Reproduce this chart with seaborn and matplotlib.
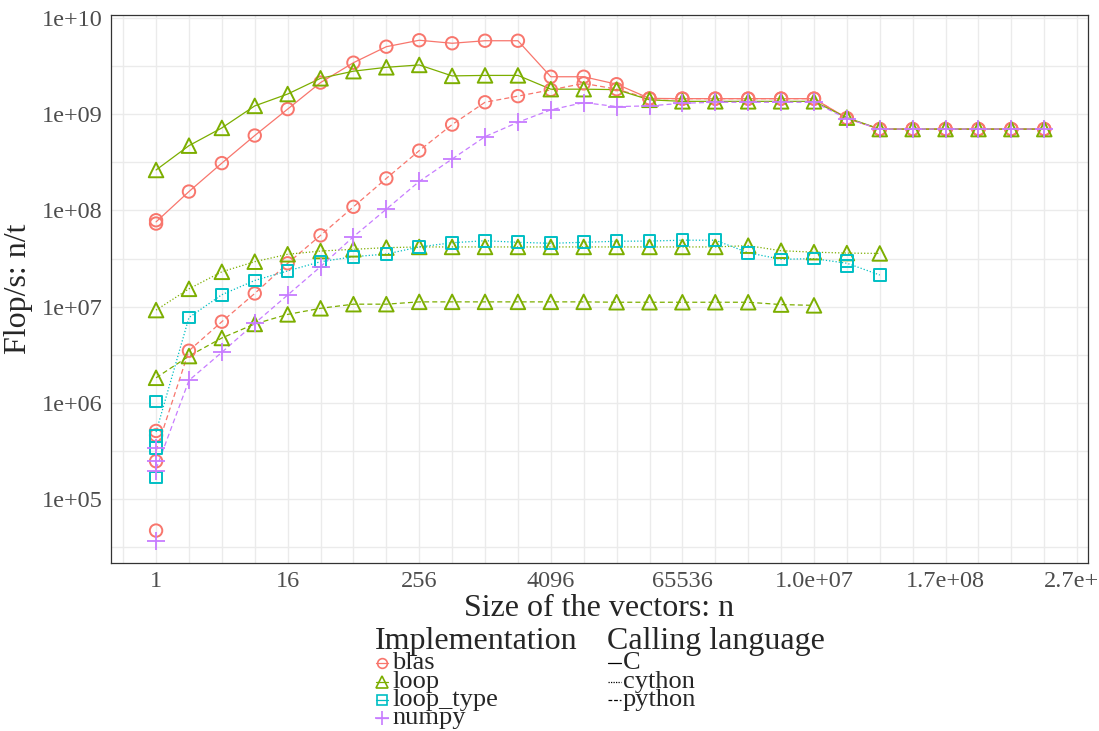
import numpy as np
import pandas as pd
import matplotlib
matplotlib.use("Agg")
import matplotlib.pyplot as plt
from matplotlib.lines import Line2D
from matplotlib.ticker import NullFormatter
from matplotlib.transforms import ScaledTranslation
import seaborn as sns

# ---------------- data ----------------
impl_names = ["blas", "loop", "loop_type", "numpy"]
lang_names = ["C", "cython", "python"]
palette = {"blas": "#F8766D", "loop": "#7CAE00", "loop_type": "#00BFC4", "numpy": "#C77CFF"}

# values indexed by k, with n = 2**k (k = 0, 1, 2, ...)
blas_C = [7.9e7, 1.57e8, 3.1e8, 6.0e8, 1.13e9, 2.13e9, 3.43e9, 5.03e9, 5.87e9, 5.46e9,
          5.8e9, 5.8e9, 2.45e9, 2.45e9, 2.05e9, 1.46e9, 1.45e9, 1.45e9, 1.45e9, 1.45e9,
          1.45e9, 9.1e8, 7.0e8, 7.0e8, 7.0e8, 7.0e8, 7.0e8, 7.0e8]
loop_C = [2.63e8, 4.71e8, 7.2e8, 1.22e9, 1.62e9, 2.36e9, 2.8e9, 3.07e9, 3.25e9, 2.5e9,
          2.53e9, 2.53e9, 1.82e9, 1.82e9, 1.8e9, 1.41e9, 1.36e9, 1.36e9, 1.36e9, 1.36e9,
          1.36e9, 9.2e8, 7.0e8, 7.0e8, 7.0e8, 7.0e8, 7.0e8, 7.0e8]
blas_python = [5.1e5, 3.48e6, 6.97e6, 1.37e7, 2.82e7, 5.5e7, 1.09e8, 2.15e8, 4.18e8, 7.8e8,
               1.33e9, 1.54e9, 1.79e9, 2.09e9, 1.82e9, 1.45e9, 1.45e9, 1.45e9, 1.45e9, 1.45e9,
               1.45e9, 9.0e8, 7.0e8, 7.0e8, 7.0e8, 7.0e8, 7.0e8, 7.0e8]
numpy_python = [3.4e5, 1.71e6, 3.35e6, 6.7e6, 1.32e7, 2.6e7, 5.33e7, 1.03e8, 2.0e8, 3.42e8,
                5.84e8, 8.24e8, 1.11e9, 1.32e9, 1.2e9, 1.22e9, 1.3e9, 1.33e9, 1.33e9, 1.33e9,
                1.33e9, 9.0e8, 7.0e8, 7.0e8, 7.0e8, 7.0e8, 7.0e8, 7.0e8]
loop_cython = [9.2e6, 1.53e7, 2.3e7, 2.93e7, 3.5e7, 3.78e7, 3.94e7, 4.1e7, 4.17e7, 4.17e7,
               4.17e7, 4.17e7, 4.17e7, 4.17e7, 4.17e7, 4.17e7, 4.17e7, 4.17e7, 4.3e7, 3.81e7,
               3.68e7, 3.6e7, 3.57e7]
loop_type_cython = [1.03e6, 7.7e6, 1.33e7, 1.87e7, 2.35e7, 2.93e7, 3.3e7, 3.52e7, 4.17e7, 4.61e7,
                    4.84e7, 4.66e7, 4.55e7, 4.66e7, 4.78e7, 4.8e7, 4.9e7, 4.9e7, 3.63e7, 3.1e7,
                    3.15e7, 3.0e7, 2.13e7]
loop_python = [1.82e6, 3.06e6, 4.72e6, 6.6e6, 8.3e6, 9.6e6, 1.06e7, 1.06e7, 1.12e7, 1.12e7,
               1.12e7, 1.12e7, 1.12e7, 1.12e7, 1.11e7, 1.11e7, 1.11e7, 1.11e7, 1.11e7, 1.05e7,
               1.03e7]

# repeated measurements (extra points)
extra_impl = ["blas", "blas", "blas", "blas", "numpy", "numpy", "numpy",
              "loop_type", "loop_type", "loop_type", "loop_type"]
extra_lang = ["C", "python", "python", "python", "python", "python", "python",
              "cython", "cython", "cython", "cython"]
extra_k = [0, 0, 0, 0, 0, 0, 0, 0, 0, 0, 21]
extra_vals = [7.3e7, 4.6e5, 2.47e5, 4.7e4, 2.48e5, 1.97e5, 3.66e4,
              4.5e5, 3.4e5, 1.67e5, 2.65e7]

x_tick_k = [0, 4, 8, 12, 16, 20, 24, 28]
x_tick_labels = ["1", "16", "256", "4096", "65536", "1.0e+07", "1.7e+08", "2.7e+"]
y_tick_exp = [5, 6, 7, 8, 9, 10]
y_tick_labels = ["1e+05", "1e+06", "1e+07", "1e+08", "1e+09", "1e+10"]

series = [("blas", "C", blas_C), ("loop", "C", loop_C), ("blas", "python", blas_python),
          ("numpy", "python", numpy_python), ("loop", "cython", loop_cython),
          ("loop_type", "cython", loop_type_cython), ("loop", "python", loop_python)]

rows = []
for impl, lang, vals in series:
    for k, v in enumerate(vals):
        rows.append(dict(n=2.0 ** k, flops=v, impl=impl, lang=lang))
for impl, lang, k, v in zip(extra_impl, extra_lang, extra_k, extra_vals):
    rows.append(dict(n=2.0 ** k, flops=v, impl=impl, lang=lang))
df = pd.DataFrame(rows)

# ---------------- plot ----------------
sns.set_theme(style="whitegrid")
plt.rcParams["font.family"] = ["Liberation Serif", "DejaVu Serif"]

W, H = 1099, 731
fig = plt.figure(figsize=(W / 100, H / 100), dpi=100)
ax = fig.add_axes([111 / W, 1 - 563 / H, (1088 - 111) / W, (563 - 15) / H])

sns.lineplot(data=df, x="n", y="flops", hue="impl", style="lang",
             hue_order=impl_names, style_order=lang_names, palette=palette,
             dashes={"C": "", "cython": (1, 1.6), "python": (4, 2.5)},
             estimator="mean", errorbar=("pi", 100),
             err_kws={"alpha": 0.2, "linewidth": 0},
             linewidth=0.9, legend=False, ax=ax)

marker_spec = {"blas": ("o", 80), "loop": ("^", 110), "loop_type": ("s", 70)}
for impl, (mk, sz) in marker_spec.items():
    sub = df[df.impl == impl]
    sns.scatterplot(data=sub, x="n", y="flops", marker=mk, s=sz, color=palette[impl],
                    linewidth=1.4, legend=False, ax=ax, zorder=3)
    coll = ax.collections[-1]
    coll.set_edgecolor(palette[impl])
    coll.set_facecolor("none")
sub = df[df.impl == "numpy"]
sns.scatterplot(data=sub, x="n", y="flops", marker="+", s=170, color=palette["numpy"],
                linewidth=1.3, legend=False, ax=ax, zorder=3)

ax.set_xscale("log", base=2)
ax.set_yscale("log")
ax.set_xlim(2 ** -1.37, 2 ** 28.33)
ax.set_ylim(10 ** 4.335, 10 ** 10.031)

ax.set_xticks([2.0 ** k for k in x_tick_k])
ax.set_xticklabels(x_tick_labels)
ax.set_xticks([2.0 ** k for k in range(-1, 29)], minor=True)
ax.set_yticks([10.0 ** e for e in y_tick_exp])
ax.set_yticklabels(y_tick_labels)
ax.set_yticks([10.0 ** (e + 0.5) for e in range(4, 10)], minor=True)
ax.xaxis.set_minor_formatter(NullFormatter())
ax.yaxis.set_minor_formatter(NullFormatter())
ax.tick_params(which="minor", length=0)
ax.tick_params(which="major", length=4, width=0.8, color="#333333",
               labelsize=17.5, labelcolor="#4D4D4D", pad=2)
ax.grid(which="both", color="#EBEBEB", linewidth=1.0)
ax.set_axisbelow(True)
for sp in ax.spines.values():
    sp.set_color("#333333")
    sp.set_linewidth(0.9)

# last x label sits at the figure edge: nudge it so it stays inside
last = ax.get_xticklabels()[-1]
last.set_transform(last.get_transform() + ScaledTranslation(-6 / 100, 0, fig.dpi_scale_trans))

ax.set_xlabel("Size of the vectors: n", fontsize=23, labelpad=1)
ax.set_ylabel("Flop/s: n/t", fontsize=23, labelpad=6)

# ---------------- legend (manual, ggplot-like) ----------------
def fx(px):
    return px / W

def fy(py):
    return 1 - py / H

fig.text(fx(375), fy(641), "Implementation", fontsize=23, va="center", ha="left")
fig.text(fx(607), fy(641), "Calling language", fontsize=23, va="center", ha="left")

item_y = [663, 682, 700, 718]
impl_markers = {"blas": ("o", 7), "loop": ("^", 8.5), "loop_type": ("s", 6.5), "numpy": ("+", 10)}
for impl, yy in zip(impl_names, item_y):
    mk, ms = impl_markers[impl]
    fig.add_artist(Line2D([fx(376), fx(388)], [fy(yy), fy(yy)], transform=fig.transFigure,
                          color=palette[impl], linewidth=0.9))
    fig.add_artist(Line2D([fx(382)], [fy(yy)], transform=fig.transFigure, marker=mk,
                          markersize=ms, markerfacecolor="none", markeredgecolor=palette[impl],
                          markeredgewidth=1.2, linestyle="none"))
    fig.text(fx(392), fy(yy), impl, fontsize=19, va="center", ha="left")

lang_dash = {"C": "-", "cython": (0, (1, 1)), "python": (0, (3, 1.5))}
for lang, yy in zip(lang_names, item_y[:3]):
    fig.add_artist(Line2D([fx(608), fx(621)], [fy(yy), fy(yy)], transform=fig.transFigure,
                          color="black", linewidth=0.9, linestyle=lang_dash[lang]))
    fig.text(fx(623), fy(yy), lang, fontsize=19, va="center", ha="left")

fig.savefig("out.png", dpi=100)
